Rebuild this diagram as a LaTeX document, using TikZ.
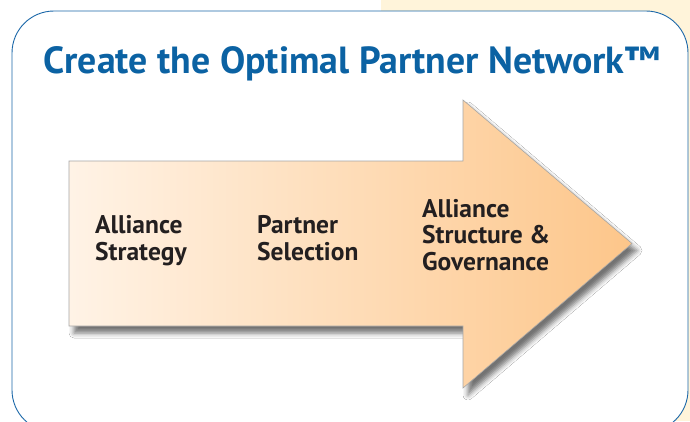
\documentclass[tikz,border=0pt]{standalone}
\usepackage{fontspec}
\setmainfont{PT Sans}
\usepackage{tikz}
\usetikzlibrary{shadows.blur}
\definecolor{titleblue}{HTML}{0B62A3}
\definecolor{frameblue}{HTML}{1C68A9}
\definecolor{cream}{HTML}{FFF4DA}
\definecolor{arrowlight}{HTML}{FFF3E6}
\definecolor{arrowdark}{HTML}{FDC68A}
\definecolor{textdark}{HTML}{231F20}

\begin{document}
\begin{tikzpicture}[x=1pt, y=-1pt,
    steptext/.style={anchor=base west, align=left, inner sep=0, text=textdark,
      font=\bfseries\fontsize{25.5}{26.5}\selectfont}]
    \useasboundingbox (0, 0) rectangle (690, 421);
    \clip (0, 0) rectangle (690, 421);
    \fill[white] (0, 0) rectangle (690, 421);
    \fill[cream] (381, 0) rectangle (690, 421);
    % framed panel
    \draw[frameblue, fill=white, line width=0.9pt, rounded corners=42pt] (12, 11) rectangle (688, 432);
    \node[titleblue, font=\bfseries\fontsize{37.8}{40}\selectfont, anchor=base] (title) at (352, 73) {Create the Optimal Partner Network\texttrademark};
    % big process arrow
    \draw[draw=black!35, line width=0.6pt, left color=arrowlight, right color=arrowdark,
        blur shadow={shadow xshift=5pt, shadow yshift=-7pt, shadow blur radius=5pt, shadow opacity=55}]
        (69, 161) -- (463, 161) -- (463, 100) -- (632, 243.5) -- (463, 388) -- (463, 326) -- (69, 326) -- cycle;
    % last line of each label sits on the given baseline
    \node[steptext] (strategy) at (95, 260) {Alliance\\Strategy};
    \node[steptext] (selection) at (257, 260) {Partner\\Selection};
    \node[steptext] (structure) at (422, 270) {Alliance\\Structure \&\\Governance};
\end{tikzpicture}
\end{document}
